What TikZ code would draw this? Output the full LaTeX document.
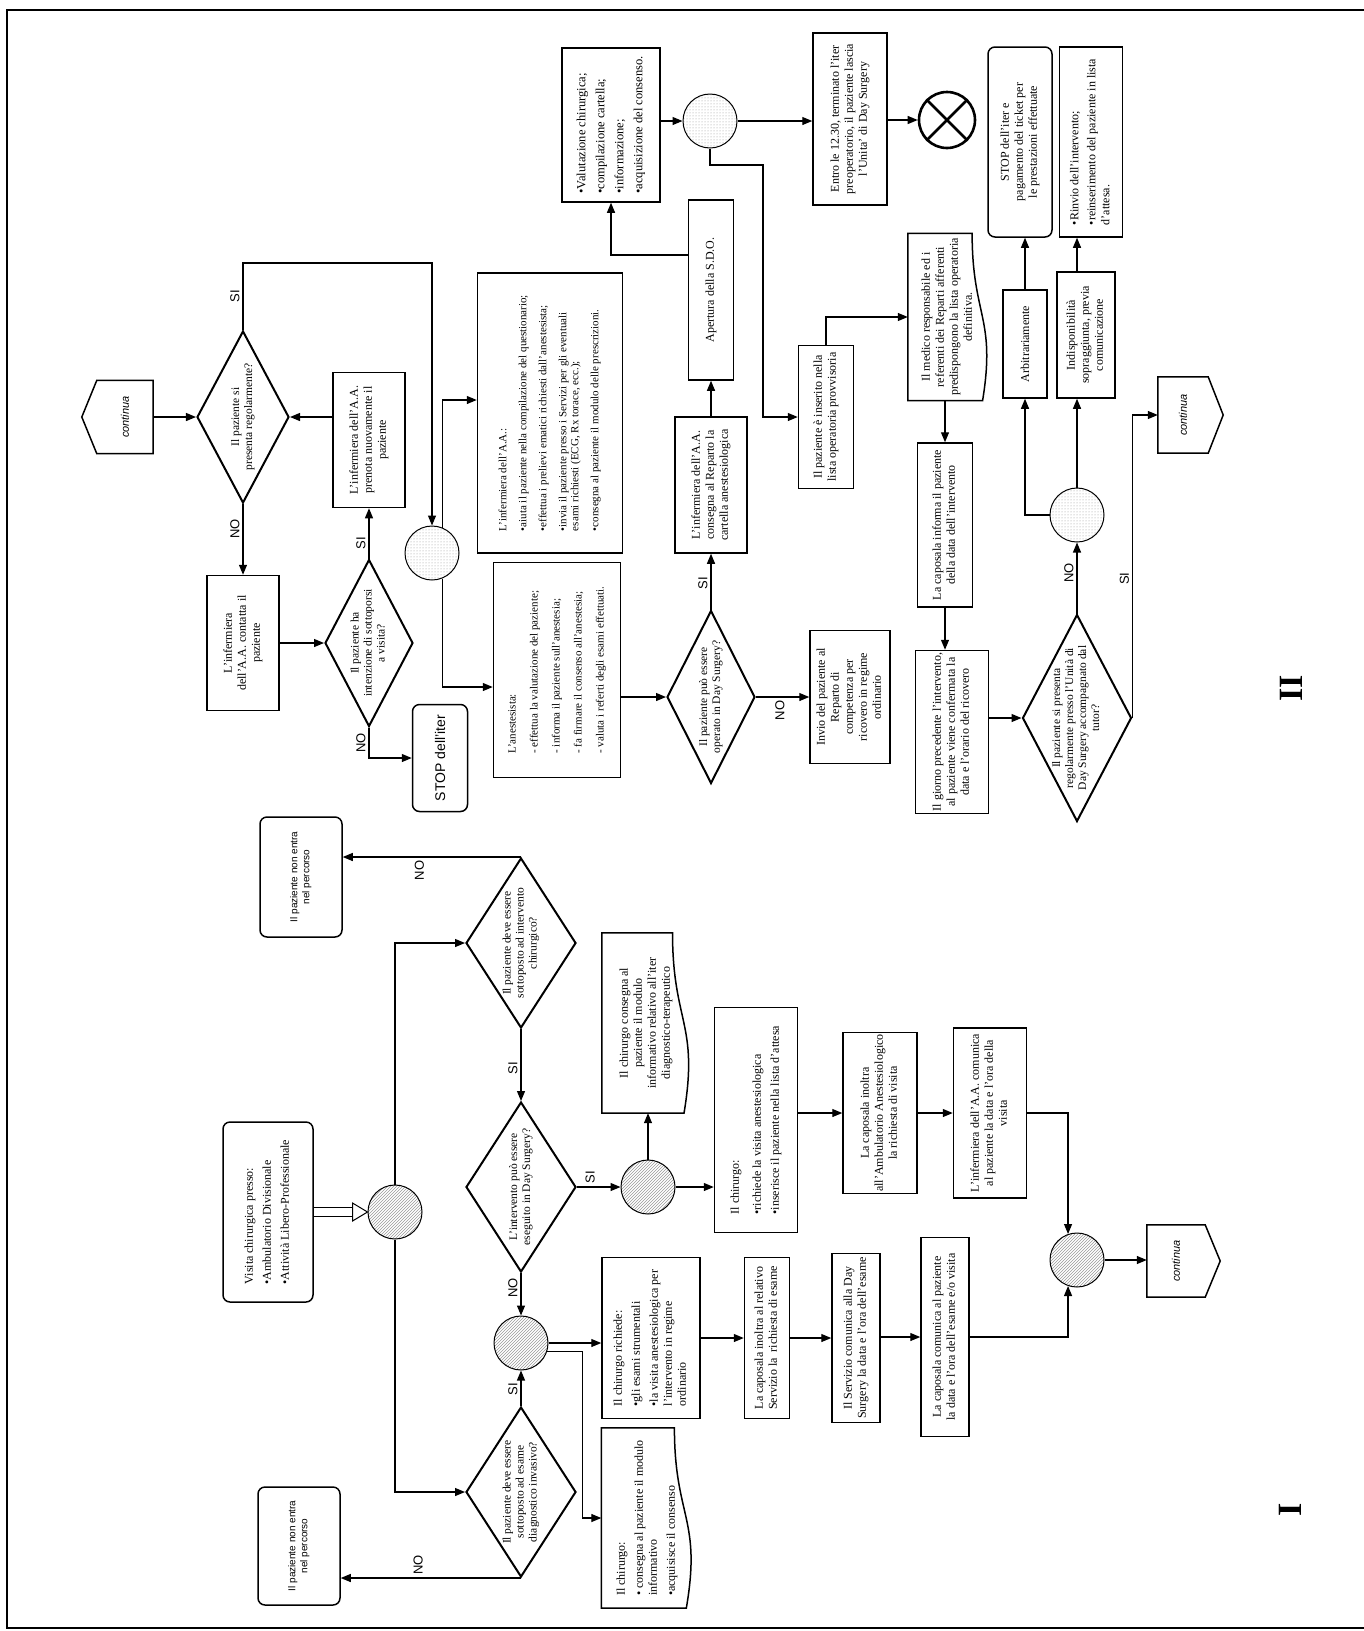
\documentclass[tikz,border=0pt]{standalone}
\usepackage{fontspec}
\setmainfont{Liberation Serif}
\setsansfont{Liberation Sans}
\usepackage{graphicx}
\usetikzlibrary{arrows.meta,calc,shapes.geometric,patterns}

% text turned to read bottom-up
\newcommand{\vt}[1]{\rotatebox{90}{#1}}
\newcommand{\vc}[1]{\rotatebox{90}{\begin{tabular}{@{}c@{}}#1\end{tabular}}}
\newcommand{\vl}[1]{\rotatebox{90}{\begin{tabular}{@{}l@{}}#1\end{tabular}}}
% outlines drawn round plain nodes
\newcommand{\docshape}[1]{%
  \draw[boxline] (#1.north west) -- ($(#1.north west)!0.8!(#1.north east)$)
    .. controls ($(#1.west)!0.8!(#1.east)$) and ($(#1.west)!1.1!(#1.east)$)
    .. ($(#1.south west)!0.93!(#1.south east)$) -- (#1.south west) -- cycle;}
\newcommand{\ofpleft}[1]{%
  \draw[boxline] (#1.north east) -- (#1.north west) -- ([xshift=-15pt]#1.west)
    -- (#1.south west) -- (#1.south east) -- cycle;}
\newcommand{\ofpright}[1]{%
  \draw[boxline] (#1.north west) -- (#1.north east) -- ([xshift=15pt]#1.east)
    -- (#1.south east) -- (#1.south west) -- cycle;}

\begin{document}
\begin{tikzpicture}[x=1pt, y=-1pt,
  font=\fontsize{12}{14}\selectfont,
  box/.style={rectangle, draw, line width=1.5pt, inner sep=0pt},
  rbox/.style={box, rounded corners=7pt},
  doc/.style={rectangle, inner sep=0pt},
  ofp/.style={rectangle, inner sep=0pt, font=\sffamily\itshape\fontsize{11}{12}\selectfont},
  dec/.style={diamond, draw, line width=2pt, inner sep=0pt},
  dtxt/.style={inner sep=0pt, font=\fontsize{11.5}{13}\selectfont},
  joint/.style={circle, draw, line width=1pt, minimum size=54pt, inner sep=0pt,
                pattern=dots, pattern color=gray!85},
  jointI/.style={joint, pattern=north east lines, pattern color=gray!80},
  sz/.style 2 args={minimum width=#1, minimum height=#2},
  arr/.style={line width=1.2pt, -{Triangle[length=10pt,width=8pt]}},
  dbl/.style={line width=1pt, double, double distance=8pt, shorten >=15pt},
  yn/.style={inner sep=3pt, font=\sffamily\fontsize{13}{13}\selectfont},
  boxline/.style={line width=1.5pt},
  sans/.style={font=\sffamily\fontsize{10}{12}\selectfont},
]
\useasboundingbox (0,0) rectangle (1364,1631);
\draw[line width=2pt] (1364,10) -- (7,10) -- (7,1628) -- (1364,1628);

% ================= II =================
\node[ofp, sz={56pt}{73pt}] (c2in) at (125,417) {\vt{continua}};
\ofpleft{c2in}
\node[dec, sz={92pt}{172pt}] (d1) at (243,417) {};
\node[dtxt] (d1t) at (d1) {\vc{Il paziente si\\presenta regolarmente?}};
\node[box, sz={72pt}{135pt}] (b_prenota) at (369,440)
  {\vc{L'infermiera dell'A.A.\\prenota nuovamente il\\paziente}};
\node[box, sz={72pt}{135pt}] (b_contatta) at (243,643)
  {\vc{L'infermiera\\dell'A.A. contatta il\\paziente}};
\node[dec, sz={88pt}{167pt}] (d2) at (369,643) {};
\node[dtxt] (d2t) at (d2) {\vc{Il paziente ha\\intenzione di sottoporsi\\a visita?}};
\node[rbox, sz={55pt}{107pt}, font=\sffamily\fontsize{14}{16}\selectfont] (stop1) at (440,758)
  {\vt{STOP dell'iter}};
\node[joint] (c1) at (432,553) {};
\node[box, sz={145pt}{280pt}, font=\fontsize{11}{12}\selectfont] (b_aiuta) at (550,413)
  {\vl{L'infermiera dell'A.A.:\\[8pt]
   •aiuta il paziente nella compilazione del questionario;\\[8pt]
   •effettua i prelievi ematici richiesti dall'anestesista;\\[8pt]
   •invia il paziente presso i Servizi per gli eventuali\\
   esami richiesti (ECG, Rx torace, ecc.);\\[8pt]
   •consegna al paziente il modulo delle prescrizioni.}};
\node[box, sz={127pt}{215pt}, font=\fontsize{11}{13}\selectfont] (b_anest) at (557,670)
  {\vl{L'anestesista:\\[9pt]
   - effettua la valutazione del paziente;\\[9pt]
   - informa il paziente sull'anestesia;\\[9pt]
   - fa firmare il consenso all'anestesia;\\[9pt]
   - valuta i referti degli esami effettuati.}};
\node[dec, sz={88pt}{173pt}] (d3) at (711,697) {};
\node[dtxt] (d3t) at (d3) {\vc{Il paziente può essere\\operato in Day Surgery?}};
\node[box, sz={72pt}{136pt}] (b_cartella) at (711,485)
  {\vc{L'infermiera dell'A.A.\\consegna al Reparto la\\cartella anestesiologica}};
\node[box, sz={80pt}{133pt}] (b_invio) at (850,697)
  {\vc{Invio del paziente al\\Reparto di\\competenza per\\ricovero in regime\\ordinario}};
\node[box, sz={45pt}{180pt}] (b_sdo) at (711,290) {\vt{Apertura della S.D.O.}};
\node[box, sz={98pt}{154pt}, font=\fontsize{12.5}{14}\selectfont] (b_valut) at (611,125)
  {\vl{•Valutazione chirurgica;\\[5pt] •compilazione cartella;\\[5pt]
   •informazione;\\[5pt] •acquisizione del consenso.}};
\node[joint] (c2) at (710,121) {};
\node[box, sz={74pt}{172pt}] (b_entro) at (850,119)
  {\vc{Entro le 12.30, terminato l'iter\\preoperatorio, il paziente lascia\\l'Unita' di Day Surgery}};
\node[circle, draw, line width=2.6pt, minimum size=56pt, inner sep=0pt] (fine) at (947,120) {};
\draw[line width=2.6pt] (fine.45) -- (fine.225) (fine.135) -- (fine.315);
\node[box, sz={55pt}{143pt}] (b_inserito) at (826,417)
  {\vc{Il paziente è inserito nella\\lista operatoria provvisoria}};
\node[doc, sz={80pt}{167pt}] (b_medico) at (948,317)
  {\vc{Il medico responsabile ed i\\referenti dei Reparti afferenti\\predispongono la lista operatoria\\definitiva.}};
\docshape{b_medico}
\node[box, sz={55pt}{164pt}] (b_informa) at (945,525)
  {\vc{La caposala informa il paziente\\della data dell'intervento}};
\node[box, sz={73pt}{163pt}] (b_giorno) at (952,732)
  {\vc{Il giorno precedente l'intervento,\\al paziente viene confermata la\\data e l'orario del ricovero}};
\node[dec, sz={109pt}{207pt}] (d4) at (1077,718) {};
\node[dtxt] (d4t) at (d4)
  {\vc{Il paziente si presenta\\regolarmente presso l'Unità di\\Day Surgery accompagnato dal\\tutor?}};
\node[joint] (c3) at (1077,515) {};
\node[box, sz={44pt}{108pt}] (b_arbitr) at (1025,344) {\vt{Arbitrariamente}};
\node[box, sz={58pt}{126pt}] (b_indisp) at (1086,335)
  {\vc{Indisponibilità\\sopraggiunta, previa\\comunicazione}};
\node[rbox, sz={64pt}{190pt}] (b_stop2) at (1020,142)
  {\vc{STOP dell'iter e\\pagamento del ticket per\\le prestazioni effettuate}};
\node[box, sz={63pt}{190pt}] (b_rinvio) at (1091,142)
  {\vl{•Rinvio dell'intervento;\\[3pt] •reinserimento del paziente in lista\\d'attesa.}};
\node[ofp, sz={50pt}{76pt}] (c2out) at (1183,415) {\vt{continua}};
\ofpright{c2out}

% --- connectors II ---
\draw[arr] (c2in) -- (d1);
\draw[arr] (d1.north) -- node[yn, left] {\vt{SI}} ++(0,-67) -| (c1.north);
\draw[arr] (b_prenota.west |- d1) -- (d1.east);
\draw[arr] (d1.south) -- node[yn, left, pos=0.35] {\vt{NO}} (b_contatta.north);
\draw[arr] (b_contatta) -- (d2);
\draw[arr] (d2.north) -- node[yn, left, pos=0.3] {\vt{SI}} (b_prenota.south);
\draw[arr] (d2.south) |- node[yn, left, pos=0.25] {\vt{NO}} (stop1.west);
\draw[arr] (c1.68) |- (b_aiuta.west |- 0,400);
\draw[arr] (c1.-68) |- (b_anest.west |- 0,687);
\draw[arr] (b_anest.east |- d3) -- (d3.west);
\draw[arr] (d3.north) -- node[yn, left, pos=0.47] {\vt{SI}} (b_cartella.south);
\draw[arr] (d3.east) -- node[yn, below, pos=0.45] {\vt{NO}} (b_invio.west);
\draw[arr] (b_cartella.north) -- (b_sdo.south);
\draw[arr] (b_sdo.west |- 0,255) -| (b_valut.south);
\draw[arr] (b_valut.east |- c2) -- (c2.west);
\draw[arr] (c2.east) -- (b_entro.west |- c2.east);
\draw[arr] (b_entro.east |- fine) -- (fine.west);
\draw[arr] (c2.south) |- (763,165) |- (b_inserito.west);
\draw[arr] (b_inserito.north) |- (b_medico.west);
\draw[arr] (b_informa.north |- b_medico.south) -- (b_informa.north);
\draw[arr] (b_informa.south) -- (b_informa.south |- b_giorno.north);
\draw[arr] (b_giorno.east |- d4) -- (d4.west);
\draw[arr] (d4.north) -- node[yn, left, pos=0.57] {\vt{NO}} (c3.south);
\draw[arr] (c3.west) -| (b_arbitr.south);
\draw[arr] (c3.north) -- (c3.north |- b_indisp.south);
\draw[arr] (b_arbitr.north) -- (b_arbitr.north |- b_stop2.south);
\draw[arr] (c3.north |- b_indisp.north) -- (c3.north |- b_rinvio.south);
\draw[arr] (d4.east) |- node[yn, left, pos=0.23] {\vt{SI}} (c2out.west);

% ================= I =================
\node[rbox, sans, sz={82pt}{120pt}] (b_nonentra1) at (301,877)
  {\vc{Il paziente non entra\\nel percorso}};
\node[dec, sz={110pt}{170pt}] (d5) at (521,943) {};
\node[dtxt] (d5t) at (d5) {\vc{Il paziente deve essere\\sottoposto ad intervento\\chirurgico?}};
\node[rbox, sz={90pt}{180pt}] (b_visita) at (268,1212)
  {\vl{Visita chirurgica presso:\\[4pt] •Ambulatorio Divisionale\\[4pt] •Attività Libero-Professionale}};
\node[jointI] (c4) at (395,1212) {};
\node[dec, sz={110pt}{170pt}] (d6) at (521,1187) {};
\node[dtxt] (d6t) at (d6) {\vc{L'intervento può essere\\eseguito in Day Surgery?}};
\node[jointI] (c5) at (648,1187) {};
\node[doc, sz={88pt}{180pt}] (b_modulo) at (646,1023)
  {\vc{Il chirurgo consegna al\\paziente il modulo\\informativo relativo all'iter\\diagnostico-terapeutico}};
\docshape{b_modulo}
\node[box, sz={83pt}{225pt}] (b_chir1) at (756,1120)
  {\vl{Il chirurgo:\\[8pt] •richiede la visita anestesiologica\\[4pt]
   •inserisce il paziente nella lista d'attesa}};
\node[box, sz={74pt}{161pt}] (b_inoltraAA) at (880,1113)
  {\vc{La caposala inoltra\\all'Ambulatorio Anestesiologico\\la richiesta di visita}};
\node[box, sz={73pt}{170pt}] (b_comunicaAA) at (990,1113)
  {\vc{L'infermiera dell'A.A. comunica\\al paziente la data e l'ora della\\visita}};
\node[jointI] (c6) at (1077,1260) {};
\node[ofp, sz={58pt}{72pt}] (contI) at (1176,1261) {\vt{continua}};
\ofpright{contI}
\node[dec, sz={110pt}{170pt}] (d7) at (521,1492) {};
\node[dtxt] (d7t) at (d7) {\vc{Il paziente deve essere\\sottoposto ad esame\\diagnostico invasivo?}};
\node[rbox, sans, sz={82pt}{118pt}] (b_nonentra2) at (299,1546)
  {\vc{Il paziente non entra\\nel percorso}};
\node[jointI] (c7) at (521,1343) {};
\node[box, sz={98pt}{161pt}] (b_richiede) at (651,1338)
  {\vl{Il chirurgo richiede:\\[4pt] •gli esami strumentali\\[4pt]
   •la visita anestesiologica per\\l'intervento in regime\\ordinario}};
\node[doc, sz={91pt}{180pt}] (b_consenso) at (647,1518)
  {\vl{Il chirurgo:\\[4pt] • consegna al paziente il modulo\\informativo\\[4pt] •acquisisce il consenso}};
\docshape{b_consenso}
\node[box, sz={45pt}{161pt}] (b_inoltraServ) at (767,1338)
  {\vc{La caposala inoltra al relativo\\Servizio la\ \ richiesta di esame}};
\node[box, sz={48pt}{169pt}] (b_servizio) at (856,1338)
  {\vc{Il Servizio comunica alla Day\\Surgery la data e l'ora dell'esame}};
\node[box, sz={48pt}{199pt}] (b_capcom) at (945,1337)
  {\vc{La caposala comunica al paziente\\la data e l'ora dell'esame e/o visita}};

% --- connectors I ---
\draw[dbl] (b_visita.east |- c4) -- (c4.west);
\draw[line width=1pt, fill=white] (c4.west) -- ++(-15,-9) -- ++(0,18) -- cycle;
\draw[arr] (c4.north) |- (d5.west);
\draw[arr] (d5.north) -- node[yn, below, pos=0.57] {\vt{NO}} (b_nonentra1.east |- d5.north);
\draw[arr] (d5.south) -- node[yn, left, pos=0.54] {\vt{SI}} (d6.north);
\draw[arr] (d6.east) -- node[yn, above, pos=0.3] {\vt{SI}} (c5.west);
\draw[arr] (c5.north) -- (c5.north |- b_modulo.south);
\draw[arr] (c5.east) -- (b_chir1.west |- c5);
\draw[arr] (b_chir1.east |- b_inoltraAA) -- (b_inoltraAA.west);
\draw[arr] (b_inoltraAA) -- (b_comunicaAA);
\draw[arr] (b_comunicaAA.east) -| (c6.109);
\draw[arr] (c6.east) -- (contI.west |- c6);
\draw[arr] (d6.south) -- node[yn, left, pos=0.35] {\vt{NO}} (c7.north);
\draw[arr] (c4.south) |- (d7.west);
\draw[arr] (d7.north) -- node[yn, left, pos=0.47] {\vt{SI}} (c7.south);
\draw[arr] (d7.south) -- node[yn, above, pos=0.57] {\vt{NO}} (b_nonentra2.east |- d7.south);
\draw[arr] (c7) -- (b_richiede.west |- c7);
\draw[arr] (c7.-18) -| ($(b_consenso.west)+(-19,0)$) -- (b_consenso.west);
\draw[arr] (b_richiede.east |- b_inoltraServ) -- (b_inoltraServ.west);
\draw[arr] (b_inoltraServ) -- (b_servizio);
\draw[arr] (b_servizio.east |- b_capcom) -- (b_capcom.west);
\draw[arr] (b_capcom.east) -| (c6.-109);

% --- section marks ---
\node[font=\bfseries\fontsize{34}{34}\selectfont] (secI) at (1290,1510) {\vt{I}};
\node[font=\bfseries\fontsize{34}{34}\selectfont] (secII) at (1291,688) {\vt{II}};
\end{tikzpicture}
\end{document}
